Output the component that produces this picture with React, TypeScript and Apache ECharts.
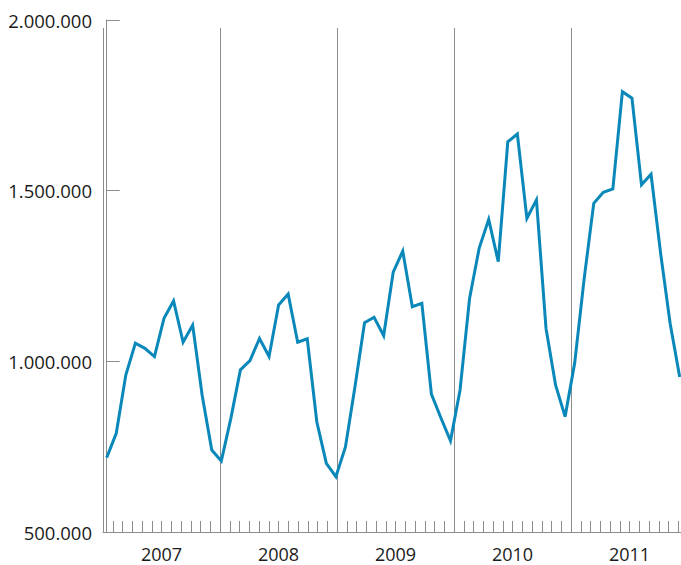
import React, { useEffect, useRef } from "react";
import * as echarts from "echarts";

const years = ["2007", "2008", "2009", "2010", "2011"];
const monthNames = ["Jan", "Feb", "Mar", "Apr", "May", "Jun", "Jul", "Aug", "Sep", "Oct", "Nov", "Dec"];
const monthCategories = years.flatMap((y) => monthNames.map((m) => `${m} ${y}`));

const values2007 = [718000, 789000, 960000, 1053000, 1038000, 1014000, 1126000, 1177000, 1056000, 1106000, 900000, 740000];
const values2008 = [708000, 833000, 975000, 1002000, 1067000, 1014000, 1165000, 1197000, 1056000, 1066000, 823000, 701000];
const values2009 = [662000, 749000, 926000, 1113000, 1129000, 1075000, 1261000, 1323000, 1160000, 1170000, 904000, 834000];
const values2010 = [767000, 916000, 1185000, 1331000, 1416000, 1292000, 1643000, 1666000, 1419000, 1473000, 1097000, 931000];
const values2011 = [838000, 994000, 1243000, 1463000, 1495000, 1505000, 1790000, 1771000, 1517000, 1548000, 1317000, 1111000];
const values2012 = [954000];

const allValues = [...values2007, ...values2008, ...values2009, ...values2010, ...values2011, ...values2012];

const yTicks = [500000, 1000000, 1500000, 2000000];

const fmt = (v: number) => String(v).replace(/\B(?=(\d{3})+(?!\d))/g, ".");

export default function App() {
  const ref = useRef<HTMLDivElement>(null);
  useEffect(() => {
    if (!ref.current) return;
    const chart = echarts.init(ref.current, null, { renderer: "svg" });
    const gray = "#8c8c8c";
    const font = "'Open Sans', 'Noto Sans', sans-serif";
    const monthPx = 9.55;
    const gridWidth = 585;
    const xMin = -3.7 / monthPx;
    const xMax = xMin + gridWidth / monthPx;
    chart.setOption({
      animation: false,
      grid: [
        { left: 103, top: 20, width: gridWidth, height: 512, containLabel: false, outerBoundsMode: "none" },
        { left: 103, top: 28, width: gridWidth, height: 504, containLabel: false, outerBoundsMode: "none" },
      ],
      xAxis: [
        {
          gridIndex: 0,
          type: "category",
          data: monthCategories,
          boundaryGap: true,
          axisLine: { show: true, lineStyle: { color: gray, width: 1 } },
          axisTick: { show: true, inside: true, length: 11, interval: 0, lineStyle: { color: gray, width: 1 } },
          axisLabel: { show: false },
          splitLine: { show: false },
        },
        {
          gridIndex: 1,
          type: "category",
          data: years,
          boundaryGap: true,
          axisLine: { show: false },
          axisTick: { show: false },
          axisLabel: { show: true, interval: 0, margin: 13, lineHeight: 18, fontSize: 18, fontFamily: font, color: "#1a1a1a" },
          splitLine: { show: true, interval: 0, lineStyle: { color: gray, width: 1 } },
        },
        {
          gridIndex: 0,
          type: "value",
          min: xMin,
          max: xMax,
          show: false,
          splitLine: { show: false },
        },
      ],
      yAxis: [
        {
          gridIndex: 0,
          type: "value",
          min: yTicks[0],
          max: yTicks[yTicks.length - 1],
          interval: 500000,
          axisLine: { show: true, lineStyle: { color: gray, width: 1 } },
          axisTick: { show: true, inside: true, length: 13, lineStyle: { color: gray, width: 1 } },
          axisLabel: { show: true, margin: 11, fontSize: 18.5, fontFamily: font, color: "#1a1a1a", formatter: (v: number) => fmt(v) },
          splitLine: { show: false },
        },
        {
          gridIndex: 1,
          type: "value",
          show: false,
          splitLine: { show: false },
        },
      ],
      series: [
        {
          type: "line",
          xAxisIndex: 2,
          yAxisIndex: 0,
          data: allValues.map((v, i) => [i, v]),
          showSymbol: false,
          symbol: "none",
          lineStyle: { color: "#0a88ba", width: 3, join: "miter" },
          clip: true,
        },
      ],
    });
    return () => chart.dispose();
  }, []);
  return <div ref={ref} style={{ position: "absolute", left: 0, top: 0, width: 681, height: 565 }} />;
}
